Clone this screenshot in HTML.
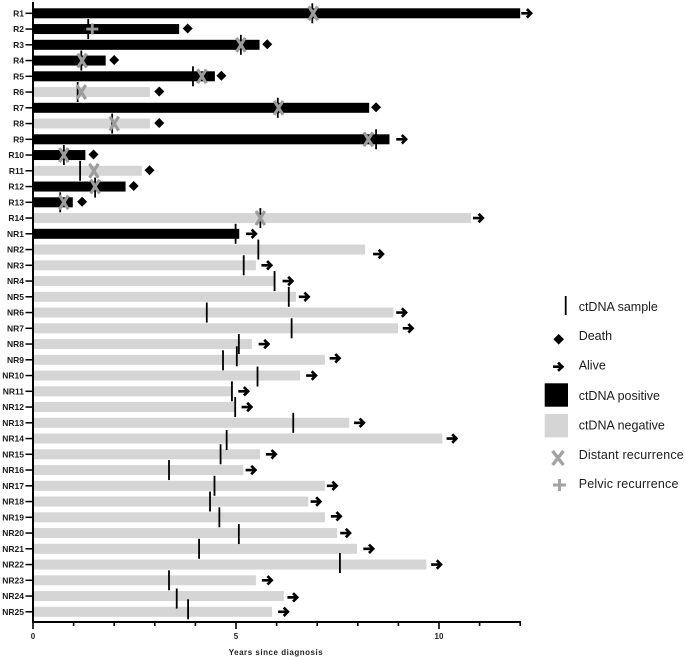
<!DOCTYPE html>
<html lang="en">
<head>
<meta charset="utf-8">
<title>ctDNA swimmer plot</title>
<style>
html,body{margin:0;padding:0;background:#fff;width:685px;height:657px;overflow:hidden}
svg{display:block;font-family:"Liberation Sans",Arial,sans-serif}
.rl{font-size:8.5px;font-weight:700;fill:#1a1a1a;text-anchor:end}
.tl{font-size:8px;font-weight:700;fill:#222;text-anchor:middle}
.lg{font-size:12.5px;fill:#1c1c1c;dominant-baseline:central}
</style>
</head>
<body>
<svg id="chart" width="685" height="657" viewBox="0 0 685 657" xmlns="http://www.w3.org/2000/svg">
  <g id="bars"></g>
  <g id="samples"></g>
  <g id="events"></g>
  <g id="outcomes"></g>
  <g id="axes"></g>
  <text x="275.7" y="655" textLength="94" lengthAdjust="spacing" style="font-size:8px;font-weight:700;fill:#222" text-anchor="middle">Years since diagnosis</text>

  <g>
    <g>
      <line x1="565.7" x2="565.7" y1="296" y2="315" stroke="#000" stroke-width="1.8"/>
      <text class="lg" x="578.7" y="307">ctDNA sample</text>
    </g>
    <g>
      <polygon points="558.7,334 564,339.3 558.7,344.6 553.4,339.3" fill="#000"/>
      <text class="lg" x="578.7" y="336">Death</text>
    </g>
    <g>
      <path d="M553 366.7H562M558 362.6L562.4 366.7L558 370.8" fill="none" stroke="#000" stroke-width="2.7"/>
      <text class="lg" x="578.7" y="365.7">Alive</text>
    </g>
    <g>
      <rect x="544.7" y="383.3" width="23.3" height="23.4" fill="#000"/>
      <text class="lg" x="578.7" y="396">ctDNA positive</text>
    </g>
    <g>
      <rect x="544.7" y="414" width="23.3" height="23.3" fill="#d5d5d5"/>
      <text class="lg" x="578.7" y="425.7">ctDNA negative</text>
    </g>
    <g>
      <path d="M552.6 451L563.4 465M563.4 451L552.6 465" fill="none" stroke="#a3a3a3" stroke-width="3.4"/>
      <text class="lg" x="578.7" y="455" textLength="105" lengthAdjust="spacing">Distant recurrence</text>
    </g>
    <g>
      <path d="M553 485H566M559.5 479V491" fill="none" stroke="#a3a3a3" stroke-width="3"/>
      <text class="lg" x="578.7" y="484" textLength="99.7" lengthAdjust="spacing">Pelvic recurrence</text>
    </g>
  </g>
</svg>

<script>
const categories = ["R1","R2","R3","R4","R5","R6","R7","R8","R9","R10","R11","R12","R13","R14",
  "NR1","NR2","NR3","NR4","NR5","NR6","NR7","NR8","NR9","NR10","NR11","NR12","NR13","NR14","NR15",
  "NR16","NR17","NR18","NR19","NR20","NR21","NR22","NR23","NR24","NR25"];
const barEnds = [12.0,3.6,5.58,1.79,4.48,2.88,8.28,2.88,8.78,1.29,2.68,2.28,0.98,10.79,
  5.08,8.18,5.49,5.95,6.48,8.88,8.99,5.39,7.19,6.58,4.89,4.98,7.79,10.08,5.59,
  5.18,7.19,6.78,7.19,7.49,7.98,9.69,5.49,6.18,5.89];
const ctdnaStatus = ["pos","pos","pos","pos","pos","neg","pos","neg","pos","pos","neg","pos","pos","neg",
  "pos","neg","neg","neg","neg","neg","neg","neg","neg","neg","neg","neg","neg","neg","neg",
  "neg","neg","neg","neg","neg","neg","neg","neg","neg","neg"];
const sampleTimes = [[6.88],[1.36],[5.12],[1.19],[3.94],[1.1],[6.03],[1.95],[8.45],[0.76],[1.16],[1.53],[0.67],[5.6],
  [4.99],[5.55],[5.19],[5.95],[6.3],[4.28],[6.37],[5.07],[4.68,5.02],[5.53],[4.9],[4.98],[6.41],[4.77],[4.62],
  [3.35],[4.47],[4.36],[4.59],[5.07],[4.09],[7.56],[3.35],[3.54],[3.82]];
const distantRecurrence = [6.9,null,5.12,1.21,4.16,1.19,6.05,2.0,8.26,0.76,1.5,1.53,0.76,5.6];
const pelvicRecurrence = [null,1.46];
const outcomeType = ["alive","death","death","death","death","death","death","death","alive","death","death","death","death","alive",
  "alive","alive","alive","alive","alive","alive","alive","alive","alive","alive","alive","alive","alive","alive","alive",
  "alive","alive","alive","alive","alive","alive","alive","alive","alive","alive"];
const outcomeTimes = [12.15,3.81,5.77,2.0,4.64,3.11,8.45,3.11,9.07,1.49,2.87,2.48,1.21,10.96,
  5.37,8.5,5.75,6.27,6.67,9.07,9.23,5.68,7.43,6.85,5.18,5.26,8.03,10.31,5.86,
  5.36,7.36,6.96,7.46,7.69,8.26,9.93,5.76,6.39,6.16];
const xTicks = [0,1,2,3,4,5,6,7,8,9,10,11,12];
const xTickLabels = ["0","","","","","5","","","","","10","",""];

const NS = "http://www.w3.org/2000/svg";
const xScale = v => 33 + 40.6 * v;
const yScale = i => 13.3 + 15.75 * i;
const samplePixelShift = {"NR9:0":0.5,"NR9:1":-3.5,"NR10:0":1,"NR14:0":1.5,"NR20:0":1,"NR22:0":-1.5,"NR24:0":2.5,"NR25:0":-2.5,"R12:0":1};
const arrowPixelShift = {"NR2":4.5,"NR9":-1.5,"NR24":1.3,"NR19":-1};

function mk(tag, attrs, parent) {
  const el = document.createElementNS(NS, tag);
  for (const k in attrs) el.setAttribute(k, attrs[k]);
  parent.appendChild(el);
  return el;
}
const barsG = document.getElementById("bars");
const samplesG = document.getElementById("samples");
const eventsG = document.getElementById("events");
const outcomesG = document.getElementById("outcomes");
const axesG = document.getElementById("axes");

categories.forEach((cat, i) => {
  const y = yScale(i);

  const bar = mk("rect", {x: xScale(0), y: y - 5, width: xScale(barEnds[i]) - xScale(0), height: 10,
    fill: ctdnaStatus[i] === "pos" ? "#000" : "#d5d5d5"}, barsG);
  
  

  sampleTimes[i].forEach((t, j) => {
    const cy = y + (samplePixelShift[cat + ":" + j] || 0);
    const s = mk("line", {x1: xScale(t), x2: xScale(t), y1: cy - 10, y2: cy + 10, stroke: "#000", "stroke-width": 1.8}, samplesG);
    
    
  });

  if (distantRecurrence[i] != null) {
    const cx = xScale(distantRecurrence[i]);
    const d = mk("path", {d: `M${cx-4.4} ${y-7}L${cx+4.4} ${y+7}M${cx+4.4} ${y-7}L${cx-4.4} ${y+7}`,
      fill: "none", stroke: "#9c9c9c", "stroke-width": 3.1}, eventsG);
    
    
  }
  if (pelvicRecurrence[i] != null) {
    const cx = xScale(pelvicRecurrence[i]);
    const p = mk("path", {d: `M${cx-6} ${y}H${cx+6}M${cx} ${y-5.5}V${y+5.5}`,
      fill: "none", stroke: "#999", "stroke-width": 2.8}, eventsG);
    
    
  }

  const ox = xScale(outcomeTimes[i]);
  if (outcomeType[i] === "death") {
    const dy = y - 0.5;
    const m = mk("polygon", {points: `${ox},${dy-5} ${ox+5},${dy} ${ox},${dy+5} ${ox-5},${dy}`, fill: "#000"}, outcomesG);
    
    
  } else {
    const ay = y + (arrowPixelShift[cat] || 0);
    const a = mk("path", {d: `M${ox-5} ${ay}H${ox+4.5}M${ox+0.6} ${ay-4.2}L${ox+4.8} ${ay}L${ox+0.6} ${ay+4.2}`,
      fill: "none", stroke: "#000", "stroke-width": 2.7}, outcomesG);
    
    
  }

  const tick = mk("line", {x1: 25.5, x2: 33, y1: y, y2: y, stroke: "#000", "stroke-width": 1.5}, axesG);
  
  

  const lab = mk("text", {class: "rl", x: 24, y: y + 3}, axesG);
  lab.textContent = cat;
  
  
});

const yAxis = mk("line", {x1: 33, x2: 33, y1: 2, y2: 623, stroke: "#000", "stroke-width": 2}, axesG);



const xAxis = mk("line", {x1: 32, x2: xScale(12) + 0.7, y1: 622, y2: 622, stroke: "#000", "stroke-width": 2}, axesG);



xTicks.forEach((t, i) => {
  const major = xTickLabels[i] !== "";
  const tk = mk("line", {x1: xScale(t), x2: xScale(t), y1: 622, y2: major ? 629 : 626, stroke: "#000", "stroke-width": 1.6}, axesG);
  
  
  if (major) {
    const lb = mk("text", {class: "tl", x: xScale(t), y: 639}, axesG);
    lb.textContent = xTickLabels[i];
    
    
  }
});
</script>
</body>
</html>
